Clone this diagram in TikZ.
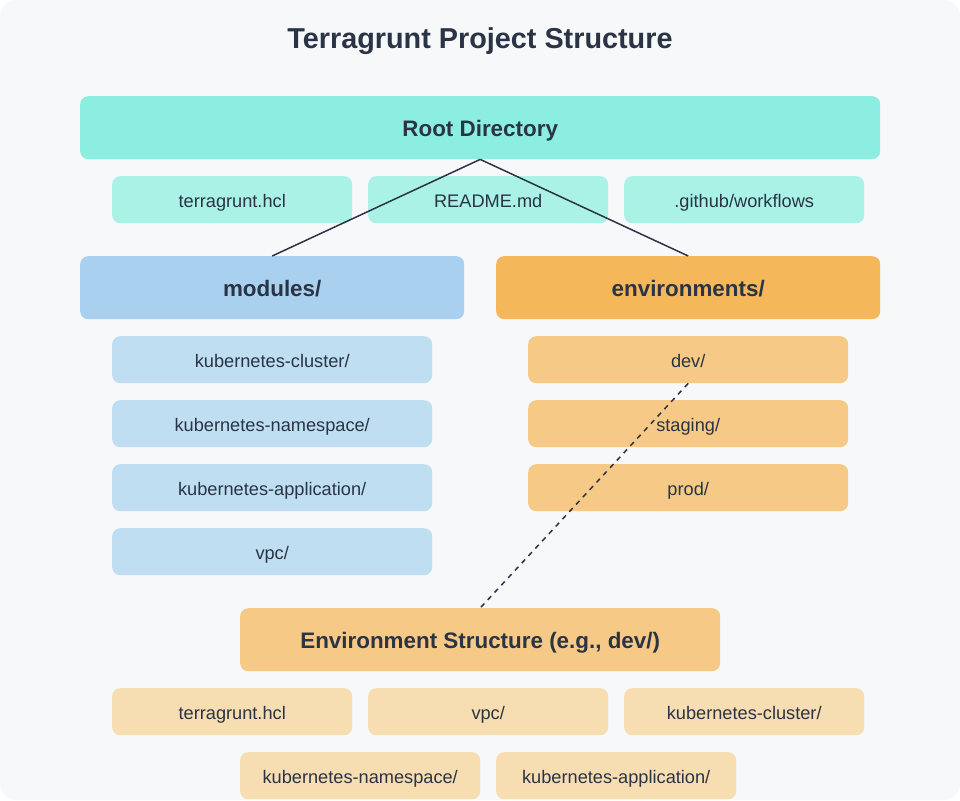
\documentclass[tikz,border=0pt]{standalone}
\usepackage{fontspec}
\setmainfont{Liberation Sans}
\begin{document}
\begin{tikzpicture}[x=1pt,y=-1pt,
  box/.style={rectangle,rounded corners=8pt,inner sep=0pt,text=txt,anchor=north west,text depth=0pt},
  head/.style={box,minimum height=63pt,text height=17pt,font=\fontsize{22.4}{26}\selectfont\bfseries},
  leaf/.style={box,minimum width=240pt,minimum height=47pt,text height=15pt,font=\fontsize{18.2}{21}\selectfont},
  conn/.style={draw=txt,line width=1.5pt},
]
\definecolor{bg}{HTML}{F7F8FA}
\definecolor{txt}{HTML}{2A3444}
\definecolor{rootc}{HTML}{8CEEE0}
\definecolor{rootl}{HTML}{AAF1E6}
\definecolor{modc}{HTML}{AAD0F0}
\definecolor{modl}{HTML}{BFDEF2}
\definecolor{envc}{HTML}{F4B75A}
\definecolor{envl}{HTML}{F6C987}
\definecolor{strl}{HTML}{F6DDB2}
\useasboundingbox (0,0) rectangle (960,800);
\fill[white] (0,0) rectangle (960,800);
\fill[bg,rounded corners=16pt] (0,0) rectangle (960,800);
\node[font=\fontsize{28.8}{32}\selectfont\bfseries,text=txt] (title) at (480,41) {Terragrunt Project Structure};
% root
\node[head,fill=rootc,minimum width=800pt] (root) at (80,96) {Root Directory};
\node[leaf,fill=rootl] (r1) at (112,176) {terragrunt.hcl};
\node[leaf,fill=rootl] (r2) at (368,176) {README.md};
\node[leaf,fill=rootl] (r3) at (624,176) {.github/workflows};
% modules
\node[head,fill=modc,minimum width=384pt] (mod) at (80,256) {modules/};
\node[leaf,fill=modl,minimum width=320pt] (m1) at (112,336) {kubernetes-cluster/};
\node[leaf,fill=modl,minimum width=320pt] (m2) at (112,400) {kubernetes-namespace/};
\node[leaf,fill=modl,minimum width=320pt] (m3) at (112,464) {kubernetes-application/};
\node[leaf,fill=modl,minimum width=320pt] (m4) at (112,528) {vpc/};
% environments
\node[head,fill=envc,minimum width=384pt] (env) at (496,256) {environments/};
\node[leaf,fill=envl,minimum width=320pt] (e1) at (528,336) {dev/};
\node[leaf,fill=envl,minimum width=320pt] (e2) at (528,400) {staging/};
\node[leaf,fill=envl,minimum width=320pt] (e3) at (528,464) {prod/};
% environment structure
\node[head,fill=envl,minimum width=480pt] (es) at (240,608) {Environment Structure (e.g., dev/)};
\node[leaf,fill=strl] (s1) at (112,688) {terragrunt.hcl};
\node[leaf,fill=strl] (s2) at (368,688) {vpc/};
\node[leaf,fill=strl] (s3) at (624,688) {kubernetes-cluster/};
\node[leaf,fill=strl] (s4) at (240,752) {kubernetes-namespace/};
\node[leaf,fill=strl] (s5) at (496,752) {kubernetes-application/};
% connectors
\draw[conn] (root.south) -- (mod.north);
\draw[conn] (root.south) -- (env.north);
\draw[conn,dash pattern=on 5pt off 5pt] (e1.south) -- (es.north);
\end{tikzpicture}
\end{document}
